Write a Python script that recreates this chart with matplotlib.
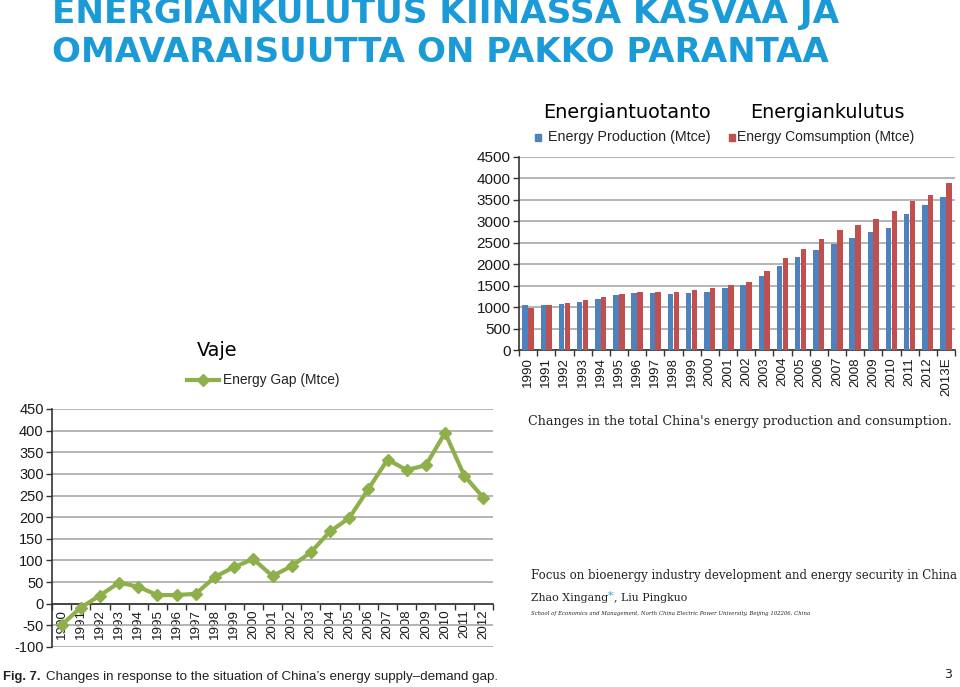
import matplotlib
matplotlib.use("Agg")
import matplotlib.pyplot as plt
import numpy as np
from matplotlib.patches import Rectangle
from matplotlib.lines import Line2D

# ---------------- data ----------------
bar_years = ["1990", "1991", "1992", "1993", "1994", "1995", "1996", "1997", "1998",
             "1999", "2000", "2001", "2002", "2003", "2004", "2005", "2006", "2007",
             "2008", "2009", "2010", "2011", "2012", "2013E"]
production = [1040, 1050, 1070, 1110, 1190, 1290, 1330, 1335, 1300, 1320, 1350, 1440,
              1505, 1720, 1965, 2160, 2320, 2470, 2605, 2745, 2855, 3180, 3370, 3565]
consumption = [990, 1040, 1090, 1160, 1230, 1310, 1350, 1360, 1362, 1405, 1455, 1505,
               1595, 1840, 2135, 2360, 2585, 2800, 2915, 3065, 3250, 3475, 3615, 3885]

gap_years = ["1990", "1991", "1992", "1993", "1994", "1995", "1996", "1997", "1998",
             "1999", "2000", "2001", "2002", "2003", "2004", "2005", "2006", "2007",
             "2008", "2009", "2010", "2011", "2012"]
gap = [-49, -9, 19, 49, 39, 20, 20, 23, 62, 85, 103, 64, 87, 119, 167, 198, 265, 333,
       309, 320, 395, 296, 245]

bar_yticks = [0, 500, 1000, 1500, 2000, 2500, 3000, 3500, 4000, 4500]
gap_yticks = [-100, -50, 0, 50, 100, 150, 200, 250, 300, 350, 400, 450]

# ---------------- styling ----------------
W, H = 960, 687
BLUE = "#4F81BD"
RED = "#C0504D"
GREEN = "#8DB04B"
GRID = "#A8A8A8"
TITLE = "#1A9AD6"
SANS = ["Liberation Sans", "DejaVu Sans"]

fig = plt.figure(figsize=(W / 100, H / 100), dpi=100)
fig.patch.set_facecolor("white")
renderer = fig.canvas.get_renderer()


def fx(x):
    return x / W


def fy(y):
    return 1 - y / H


def axes_px(x0, y0, x1, y1):
    return fig.add_axes([fx(x0), fy(y1), fx(x1) - fx(x0), (y1 - y0) / H])


def fit_text(x, y, s, width_px, ha="left", va="center", **kw):
    t = fig.text(fx(x), fy(y), s, ha=ha, va=va, **kw)
    bb = t.get_window_extent(renderer)
    t.set_fontsize(t.get_fontsize() * width_px / bb.width)
    return t


# ---------------- title ----------------
fit_text(52, 14, "ENERGIANKULUTUS KIINASSA KASVAA JA", 790, color=TITLE,
         fontweight="bold", family="DejaVu Sans", fontsize=26)
fit_text(52, 52, "OMAVARAISUUTTA ON PAKKO PARANTAA", 778, color=TITLE,
         fontweight="bold", family="DejaVu Sans", fontsize=26)

# ---------------- bar chart ----------------
axb = axes_px(519, 157, 955, 350)
xb = np.arange(len(bar_years))
bw = 0.31
axb.bar(xb - 0.16, production, width=bw, color=BLUE, zorder=3)
axb.bar(xb + 0.16, consumption, width=bw, color=RED, zorder=3)
axb.set_xlim(-0.5, len(bar_years) - 0.5)
axb.set_ylim(0, 4500)
axb.set_yticks(bar_yticks)
axb.set_yticklabels([str(v) for v in bar_yticks], family=SANS, fontsize=11, color="#1a1a1a")
axb.yaxis.grid(True, color=GRID, linewidth=1.2, zorder=0)
axb.set_xticks(xb)
axb.set_xticklabels(bar_years, rotation=90, family=SANS, fontsize=9.6, color="#1a1a1a")
axb.set_xticks(np.arange(len(bar_years) + 1) - 0.5, minor=True)
axb.tick_params(axis="x", which="major", length=0, pad=5)
axb.tick_params(axis="x", which="minor", length=4, width=1, color="#333333")
axb.tick_params(axis="y", length=4, width=1, color="#333333", pad=2)
for s in ["top", "right"]:
    axb.spines[s].set_visible(False)
for s in ["left", "bottom"]:
    axb.spines[s].set_color("#333333")
    axb.spines[s].set_linewidth(1.2)
axb.set_axisbelow(True)

# bar legend
fig.patches.append(Rectangle((fx(535), fy(141)), 6 / W, 7 / H, color=BLUE,
                             transform=fig.transFigure, figure=fig))
fit_text(548, 137, "Energy Production (Mtce)", 162, family=SANS, fontsize=10,
         color="#222222")
fig.patches.append(Rectangle((fx(729), fy(141)), 6 / W, 7 / H, color=RED,
                             transform=fig.transFigure, figure=fig))
fit_text(737, 137, "Energy Comsumption (Mtce)", 178, family=SANS, fontsize=10,
         color="#222222")

fit_text(543, 113, "Energiantuotanto", 167, family="DejaVu Sans", fontsize=13,
         color="black")
fit_text(750, 113, "Energiankulutus", 154, family="DejaVu Sans", fontsize=13,
         color="black")

# ---------------- line chart ----------------
axl = axes_px(52, 409, 493, 647)
axl.spines["bottom"].set_position(("data", 0))
xl = np.arange(len(gap_years))
axl.plot(xl, gap, color=GREEN, linewidth=3, marker="D", markersize=6.5,
         markerfacecolor=GREEN, markeredgecolor=GREEN, zorder=4, clip_on=False)
axl.set_xlim(-0.5, len(gap_years) - 0.5)
axl.set_ylim(-100, 450)
axl.set_yticks(gap_yticks)
axl.set_yticklabels([str(v) for v in gap_yticks], family=SANS, fontsize=10.5,
                    color="#1a1a1a")
axl.yaxis.grid(True, color=GRID, linewidth=1.2, zorder=0)
axl.set_xticks(xl)
axl.set_xticklabels(gap_years, rotation=90, family=SANS, fontsize=9.6, color="#1a1a1a")
axl.set_xticks(np.arange(len(gap_years) + 1) - 0.5, minor=True)
axl.tick_params(axis="x", which="major", length=0, pad=4)
axl.tick_params(axis="x", which="minor", length=4, width=1, color="#333333")
axl.tick_params(axis="y", length=4, width=1, color="#333333", pad=2)
for s in ["top", "right"]:
    axl.spines[s].set_visible(False)
for s in ["left", "bottom"]:
    axl.spines[s].set_color("#333333")
    axl.spines[s].set_linewidth(1.2)
axl.set_axisbelow(True)

# line legend
fig.add_artist(Line2D([fx(187), fx(219)], [fy(380), fy(380)], color=GREEN,
                      linewidth=3, transform=fig.transFigure))
fig.add_artist(Line2D([fx(203)], [fy(380)], color=GREEN, marker="D", markersize=6,
                      transform=fig.transFigure))
fit_text(223, 380, "Energy Gap (Mtce)", 117, family=SANS, fontsize=10, color="#222222")
fit_text(197, 350, "Vaje", 41, family="DejaVu Sans", fontsize=13, color="black")

# ---------------- captions ----------------
SERIF = ["DejaVu Serif"]
fit_text(528, 422, "Changes in the total China's energy production and consumption.",
         424, family=SERIF, fontsize=11, color="#222222")
fit_text(531, 576, "Focus on bioenergy industry development and energy security in China",
         426, family=SERIF, fontsize=11, color="#222222")

t1 = fit_text(531, 598, "Zhao Xingang", 78, family=SERIF, fontsize=9, color="#222222")
bb = t1.get_window_extent(renderer)
x_after = bb.x1
t2 = fig.text(x_after / W, fy(596), "*", family=SERIF, fontsize=t1.get_fontsize(),
              color="#2AA8DC", ha="left", va="center")
bb2 = t2.get_window_extent(renderer)
fig.text(bb2.x1 / W, fy(598), ", Liu Pingkuo", family=SERIF, fontsize=t1.get_fontsize(),
         color="#222222", ha="left", va="center")

fit_text(531, 613, "School of Economics and Management, North China Electric Power University, Beijing 102206, China",
         279, family=SERIF, style="italic", fontsize=6, color="#222222")

tf = fit_text(3, 677, "Fig. 7.", 38, family=["Liberation Sans Narrow", "Liberation Sans"],
              fontweight="bold", fontsize=10, color="#222222")
bbf = tf.get_window_extent(renderer)
fit_text(bbf.x1 + 5, 677,
         "Changes in response to the situation of China\u2019s energy supply\u2013demand gap.",
         455, family=["Liberation Sans Narrow", "Liberation Sans"], fontsize=10,
         color="#222222")

fig.text(fx(948), fy(674), "3", family="DejaVu Sans", fontsize=9, color="#222222",
         ha="center", va="center")

fig.savefig("out.png", dpi=100)
